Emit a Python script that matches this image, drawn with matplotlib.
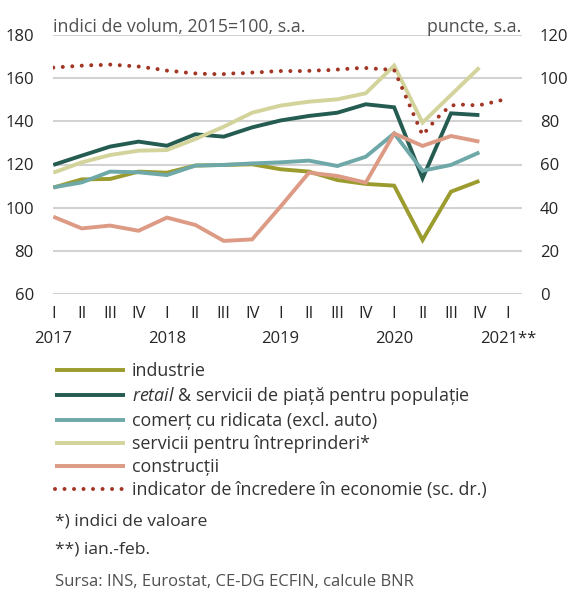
import matplotlib
matplotlib.use("Agg")
import numpy as np
from matplotlib import pyplot as plt

plt.rcParams['font.family'] = ['Open Sans', 'DejaVu Sans']
plt.rcParams['mathtext.fontset'] = 'custom'
plt.rcParams['mathtext.it'] = 'Open Sans:italic'
plt.rcParams['mathtext.rm'] = 'Open Sans'

quarters = ["I", "II", "III", "IV"] * 4 + ["I"]
years = ["2017", "2018", "2019", "2020", "2021**"]

# quarterly volume indices, 2017 Q1 .. 2020 Q4
industrie = [109.3, 113.1, 113.3, 116.7, 116.2, 119.5, 119.8, 120.1,
             117.8, 116.7, 112.8, 111.0, 110.2, 85.0, 107.4, 112.4]
retail = [119.8, 124.1, 128.3, 130.6, 128.7, 134.0, 132.9, 137.2,
          140.4, 142.5, 144.0, 147.9, 146.5, 113.6, 143.7, 142.9]
comert = [109.4, 111.7, 116.7, 116.4, 115.1, 119.5, 119.8, 120.5,
          121.0, 121.8, 119.3, 123.6, 134.4, 117.1, 119.8, 125.6]
servicii = [116.2, 121.0, 124.4, 126.4, 126.7, 131.8, 137.5, 144.0,
            147.3, 149.1, 150.2, 153.0, 165.8, 139.4, 152.2, 164.9]
constructii = [95.8, 90.4, 91.7, 89.3, 95.4, 92.0, 84.6, 85.3,
               100.5, 116.2, 114.7, 111.6, 134.4, 128.6, 133.2, 130.6]

# monthly economic sentiment indicator, Jan 2017 .. Jan 2021 (right axis)
incredere = [104.9, 105.2, 105.5, 105.8, 106.0, 106.1, 106.3, 106.0, 105.7, 105.4, 104.8, 104.2,
             103.5, 103.1, 102.6, 102.2, 102.0, 101.9, 101.9, 102.2, 102.3, 102.6, 102.8, 103.1,
             103.3, 103.3, 103.3, 103.4, 103.6, 103.7, 104.0, 104.3, 104.6, 104.7, 104.4, 104.1,
             103.8, 93.8, 83.7, 73.6, 78.8, 83.6, 87.3, 87.8, 87.5, 87.5, 88.4, 89.5,
             90.3]

labels = ["industrie",
          r"$\it{retail}$ & servicii de piață pentru populație",
          "comerț cu ridicata (excl. auto)",
          "servicii pentru întreprinderi*",
          "construcții",
          "indicator de încredere în economie (sc. dr.)"]
colors = ["#9b9b2e", "#255c52", "#6fa8a8", "#d3d39c", "#dd9a84", "#a33524"]

TXT = "#333333"
TICK = "#262626"
GREY = "#505050"

fig = plt.figure(figsize=(5.71, 5.99), dpi=100)
ax = fig.add_axes([53.3 / 571, 1 - 294 / 599, (521.7 - 53.3) / 571, (294 - 35) / 599])
ax2 = ax.twinx()

xq = np.arange(len(industrie))
handles = []
for vals, c, lab in zip([industrie, retail, comert, servicii, constructii], colors, labels):
    h, = ax.plot(xq, vals, color=c, lw=2.8, label=lab, solid_capstyle='butt',
                 solid_joinstyle='miter')
    handles.append(h)

xm = np.arange(len(incredere)) / 3
h, = ax2.plot(xm, incredere, color=colors[5], lw=2.9, dashes=(0.001, 2.36),
              dash_capstyle='round', label=labels[5])
handles.append(h)

ax.set_xlim(0, 16.49)
ax.set_ylim(60, 180)
ax2.set_ylim(0, 120)
ax.set_yticks(range(60, 181, 20))
ax2.set_yticks(range(0, 121, 20))
ax.set_xticks(range(len(quarters)))
ax.set_xticklabels(quarters)
ax.grid(axis='y', color='#d2d2d2', lw=1.5)
ax.set_axisbelow(True)
for a in (ax, ax2):
    for s in a.spines.values():
        s.set_visible(False)
ax.tick_params(axis='both', length=0, colors=TICK, labelsize=12)
ax.tick_params(axis='y', pad=14)
ax.tick_params(axis='x', pad=9)
ax2.tick_params(axis='y', length=0, colors=TICK, labelsize=12, pad=13)

for i, y in enumerate(years):
    ax.text(4 * i, -0.172, y, transform=ax.get_xaxis_transform(), ha='center', va='center',
            fontsize=12, color=TICK)

ax.text(0, 1.012, "indici de volum, 2015=100, s.a.", transform=ax.transAxes,
        ha='left', va='baseline', fontsize=12.8, color=GREY)
ax.text(1, 1.012, "puncte, s.a.", transform=ax.transAxes,
        ha='right', va='baseline', fontsize=12.8, color=GREY)

fig.legend(handles=handles, labels=labels, loc='upper left',
           bbox_to_anchor=(55 / 571, 1 - 362 / 599), frameon=False,
           fontsize=12.9, handlelength=3.9, handletextpad=0.4, labelspacing=0.28,
           labelcolor=TXT, borderaxespad=0, borderpad=0)

fig.text(55 / 571, 1 - 521 / 599, "*) indici de valoare", fontsize=12.6, color=TXT, va='center')
fig.text(55 / 571, 1 - 550 / 599, "**) ian.-feb.", fontsize=12.6, color=TXT, va='center')
fig.text(55 / 571, 1 - 582 / 599, "Sursa: INS, Eurostat, CE-DG ECFIN, calcule BNR",
         fontsize=12, color=GREY, va='center')

fig.savefig("out.png", dpi=100)
